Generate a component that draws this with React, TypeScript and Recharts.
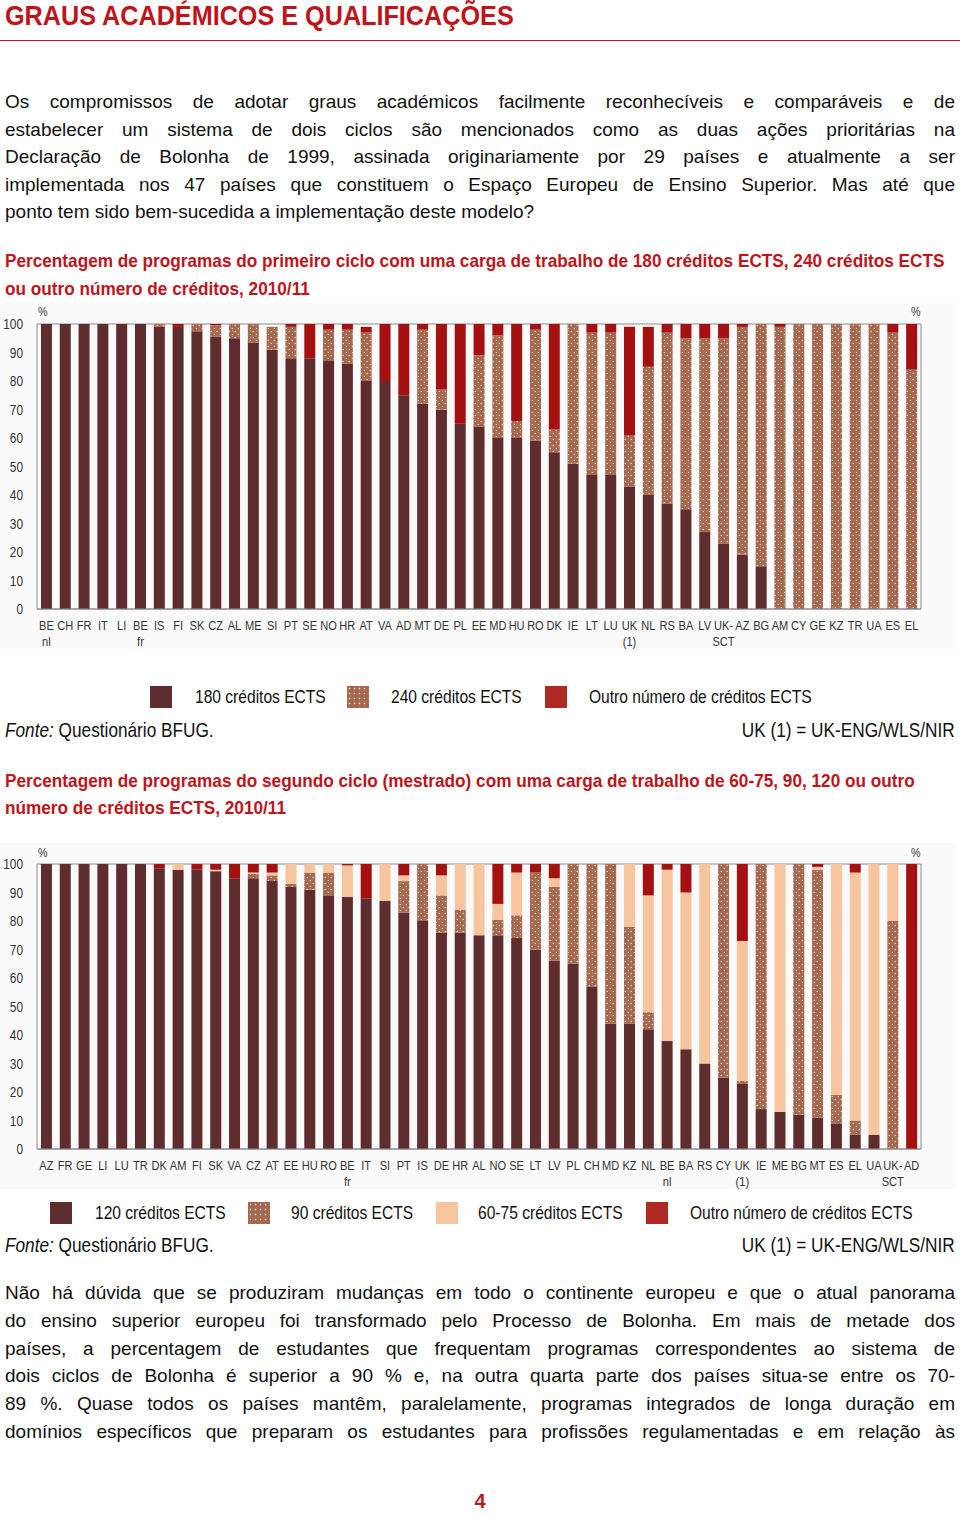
import React from "react"
import { BarChart, Bar, XAxis, YAxis, CartesianGrid } from "recharts"

// 1st cycle (bachelor) programmes, % by workload
const cycle1Countries = [
  "BE\nnl", "CH", "FR", "IT", "LI", "BE\nfr", "IS", "FI", "SK", "CZ", "AL", "ME", "SI", "PT", "SE", "NO",
  "HR", "AT", "VA", "AD", "MT", "DE", "PL", "EE", "MD", "HU", "RO", "DK", "IE", "LT", "LU", "UK\n(1)",
  "NL", "RS", "BA", "LV", "UK-\nSCT", "AZ", "BG", "AM", "CY", "GE", "KZ", "TR", "UA", "ES", "EL",
]
const cycle1Ects180 = [
  100, 100, 100, 100, 100, 100, 99, 99, 97.5, 95.5, 95, 93.5, 91, 88, 88, 87,
  86, 80, 80, 75, 72, 70, 65, 64, 60, 60, 59, 55, 51, 47, 47, 43,
  40, 37, 35, 27, 23, 19, 15, 0, 0, 0, 0, 0, 0, 0, 0,
]
const cycle1Ects240 = [
  0, 0, 0, 0, 0, 0, 1, 0, 2.5, 4, 5, 6.5, 8, 11, 0, 11,
  12, 17, 0, 0, 26, 7, 0, 25, 36, 6, 39, 8, 49, 50, 50, 18,
  45, 60, 60, 68, 72, 80, 85, 99, 100, 100, 100, 100, 100, 97, 84,
]
const cycle1Other = [
  0, 0, 0, 0, 0, 0, 0, 1, 0, 0.5, 0, 0, 0, 1, 12, 2,
  2, 2, 20, 25, 2, 23, 35, 11, 4, 34, 2, 37, 0, 3, 3, 38,
  14, 3, 5, 5, 5, 1, 0, 1, 0, 0, 0, 0, 0, 3, 16,
]

// 2nd cycle (master) programmes, % by workload
const cycle2Countries = [
  "AZ", "FR", "GE", "LI", "LU", "TR", "DK", "AM", "FI", "SK", "VA", "CZ", "AT", "EE", "HU", "RO",
  "BE\nfr", "IT", "SI", "PT", "IS", "DE", "HR", "AL", "NO", "SE", "LT", "LV", "PL", "CH", "MD", "KZ",
  "NL", "BE\nnl", "BA", "RS", "CY", "UK\n(1)", "IE", "ME", "BG", "MT", "ES", "EL", "UA", "UK-\nSCT", "AD",
]
const cycle2Ects120 = [
  100, 100, 100, 100, 100, 100, 98.5, 98, 98, 97.5, 95, 95, 94, 92, 91, 89,
  88.5, 88, 87, 83, 80, 76, 76, 75, 75, 74, 70, 66, 65, 57, 44, 44,
  42, 38, 35, 30, 25, 23, 14, 13, 12, 11, 9, 5, 5, 0, 0,
]
const cycle2Ects90 = [
  0, 0, 0, 0, 0, 0, 0, 0, 0, 0, 0, 1.5, 2, 1, 6, 8,
  0, 0, 0, 11, 20, 13, 8, 0, 5.5, 8, 27, 26, 35, 43, 56, 34,
  6, 0, 0, 0, 75, 1, 86, 0, 88, 87, 10, 5, 0, 80, 0,
]
const cycle2Ects6075 = [
  0, 0, 0, 0, 0, 0, 0, 2, 0, 0.5, 0, 0.5, 1, 7, 3, 3,
  11, 0, 13, 2, 0, 7, 16, 25, 5.5, 15, 0, 3, 0, 0, 0, 22,
  41, 60, 55, 70, 0, 49, 0, 87, 0, 1, 81, 87, 95, 20, 0,
]
const cycle2Other = [
  0, 0, 0, 0, 0, 0, 1.5, 0, 2, 2, 5, 3, 3, 0, 0, 0,
  0.5, 12, 0, 4, 0, 4, 0, 0, 14, 3, 3, 5, 0, 0, 0, 0,
  11, 2, 10, 0, 0, 27, 0, 0, 0, 1, 0, 3, 0, 0, 100,
]

const yTicks = [0, 10, 20, 30, 40, 50, 60, 70, 80, 90, 100]

const cycle1Data = cycle1Countries.map((c, i) => ({
  country: c,
  e180: cycle1Ects180[i],
  e240: cycle1Ects240[i],
  other: cycle1Other[i],
}))

const cycle2Data = cycle2Countries.map((c, i) => ({
  country: c,
  e120: cycle2Ects120[i],
  e90: cycle2Ects90[i],
  e6075: cycle2Ects6075[i],
  other: cycle2Other[i],
}))

const DARK = "#602d2f"
const DOTBASE = "#a5684e"
const PEACH = "#f6c59e"
const RED = "#a51010"
const TITLE_RED = "#c0141b"
const SANS = "'Liberation Sans', Arial, sans-serif"
// no Arial Narrow here, so squeeze Liberation Sans horizontally
const SQUEEZE = 0.82

const CountryTick = (props: any) => {
  const { x, y, payload } = props
  const lines = String(payload.value).split("\n")
  return (
    <g transform={`translate(${x},${y}) scale(${SQUEEZE},1)`}>
      <text x={0} y={0} textAnchor="middle" fill="#333" fontSize={13.5} fontFamily={SANS}>
        {lines.map((l, i) => (
          <tspan key={i} x={0} dy={i === 0 ? 19 : 16}>
            {l}
          </tspan>
        ))}
      </text>
    </g>
  )
}

const ValueTick = (props: any) => {
  const { x, y, payload, anchor } = props
  return (
    <g transform={`translate(${x},${y}) scale(${SQUEEZE},1)`}>
      <text x={0} y={0} dy={5} textAnchor={anchor} fill="#333" fontSize={14.5} fontFamily={SANS}>
        {payload.value}
      </text>
    </g>
  )
}

const DotPattern = ({ id }: { id: string }) => (
  <defs>
    <pattern id={id} width="6" height="6" patternUnits="userSpaceOnUse">
      <rect width="6" height="6" fill={DOTBASE} />
      <circle cx="1.2" cy="1.5" r="0.65" fill="#f7e8dc" />
      <circle cx="4.3" cy="4.4" r="0.6" fill="#f7e8dc" />
      <circle cx="4.6" cy="0.9" r="0.4" fill="#eed3c0" />
    </pattern>
  </defs>
)

const StackChart = ({ data, keys, fills, patternId }: any) => (
  <BarChart
    width={960}
    height={361}
    data={data}
    margin={{ top: 24, right: 0, bottom: 12, left: 0 }}
    barCategoryGap="21%"
  >
    <DotPattern id={patternId} />
    <CartesianGrid vertical={false} stroke="#8c8c8c" strokeWidth={1} />
    <XAxis
      dataKey="country"
      interval={0}
      tick={<CountryTick />}
      tickLine={false}
      tickSize={0}
      height={40}
      stroke="#8c8c8c"
    />
    <YAxis
      yAxisId="left"
      orientation="left"
      width={37}
      domain={[0, 100]}
      ticks={yTicks}
      tickLine={false}
      tickSize={0}
      tickMargin={14}
      tick={<ValueTick anchor="end" />}
      stroke="#8c8c8c"
    />
    <YAxis
      yAxisId="right"
      orientation="right"
      width={39}
      domain={[0, 100]}
      ticks={yTicks}
      tickLine={false}
      tickSize={0}
      tickMargin={15}
      tick={<ValueTick anchor="start" />}
      stroke="#8c8c8c"
    />
    {keys.map((k: string, i: number) => (
      <Bar key={k} dataKey={k} stackId="s" yAxisId="left" fill={fills[i]} isAnimationActive={false} />
    ))}
  </BarChart>
)

// condensed text block, positioned by left or right edge
const Narrow = ({ left, right, top, size, bold, color = "#111", squeeze = SQUEEZE, children }: any) => (
  <div
    style={{
      position: "absolute",
      left,
      right,
      top,
      whiteSpace: "nowrap",
      fontFamily: SANS,
      fontSize: size,
      fontWeight: bold ? 700 : 400,
      lineHeight: `${Math.round(size * 1.15)}px`,
      color,
      transform: `scaleX(${squeeze})`,
      transformOrigin: right !== undefined ? "right center" : "left center",
    }}
  >
    {children}
  </div>
)

const BodyLine = ({ top, justify, children }: any) => (
  <div
    style={{
      position: "absolute",
      left: 5,
      right: 5,
      top,
      whiteSpace: "nowrap",
      textAlign: justify ? "justify" : "left",
      textAlignLast: justify ? "justify" : "left",
      fontFamily: SANS,
      fontSize: 19,
      lineHeight: "22px",
      color: "#111",
    }}
  >
    {children}
  </div>
)

const para1 = [
  "Os compromissos de adotar graus académicos facilmente reconhecíveis e comparáveis e de",
  "estabelecer um sistema de dois ciclos são mencionados como as duas ações prioritárias na",
  "Declaração de Bolonha de 1999, assinada originariamente por 29 países e atualmente a ser",
  "implementada nos 47 países que constituem o Espaço Europeu de Ensino Superior. Mas até que",
  "ponto tem sido bem-sucedida a implementação deste modelo?",
]

const para2 = [
  "Não há dúvida que se produziram mudanças em todo o continente europeu e que o atual panorama",
  "do ensino superior europeu foi transformado pelo Processo de Bolonha. Em mais de metade dos",
  "países, a percentagem de estudantes que frequentam programas correspondentes ao sistema de",
  "dois ciclos de Bolonha é superior a 90 % e, na outra quarta parte dos países situa-se entre os 70-",
  "89 %. Quase todos os países mantêm, paralelamente, programas integrados de longa duração em",
  "domínios específicos que preparam os estudantes para profissões regulamentadas e em relação às",
]

const Swatch = ({ left, top, kind }: any) => {
  const base: any = { position: "absolute", left, top, width: 22, height: 22 }
  if (kind === "dots") {
    base.backgroundColor = DOTBASE
    base.backgroundImage = "radial-gradient(circle, #f7e8dc 0.7px, transparent 1.1px)"
    base.backgroundSize = "5px 5px"
  } else {
    base.background = kind
  }
  return <div style={base} />
}

export default function App() {
  return (
    <div style={{ position: "relative", width: 960, height: 1516, background: "#fff", overflow: "hidden" }}>
      <style>{"body{margin:0}"}</style>
      <Narrow left={5} top={0} size={28} bold color={TITLE_RED} squeeze={0.9}>
        GRAUS ACADÉMICOS E QUALIFICAÇÕES
      </Narrow>
      <div style={{ position: "absolute", left: 0, top: 40, width: 960, height: 1, background: TITLE_RED }} />

      {para1.map((t, i) => (
        <BodyLine key={i} top={91 + i * 27.6} justify={i < para1.length - 1}>
          {t}
        </BodyLine>
      ))}

      <Narrow left={5} top={250} size={19} bold color={TITLE_RED} squeeze={0.905}>
        Percentagem de programas do primeiro ciclo com uma carga de trabalho de 180 créditos ECTS, 240 créditos ECTS
      </Narrow>
      <Narrow left={5} top={278} size={19} bold color={TITLE_RED} squeeze={0.905}>
        ou outro número de créditos, 2010/11
      </Narrow>

      <div style={{ position: "absolute", left: 0, top: 303, width: 956, height: 346, background: "#fafafa" }} />
      <div style={{ position: "absolute", left: 0, top: 300 }}>
        <StackChart
          data={cycle1Data}
          keys={["e180", "e240", "other"]}
          fills={[DARK, "url(#dots1)", RED]}
          patternId="dots1"
        />
      </div>
      <Narrow left={38} top={304} size={13} color="#333">%</Narrow>
      <Narrow left={911} top={304} size={13} color="#333">%</Narrow>

      <Swatch left={150} top={686} kind={DARK} />
      <Narrow left={195} top={686} size={19}>180 créditos ECTS</Narrow>
      <Swatch left={347} top={686} kind="dots" />
      <Narrow left={391} top={686} size={19}>240 créditos ECTS</Narrow>
      <Swatch left={545} top={686} kind="#b02a24" />
      <Narrow left={589} top={686} size={19}>Outro número de créditos ECTS</Narrow>

      <Narrow left={5} top={718} size={21}>
        <i>Fonte:</i> Questionário BFUG.
      </Narrow>
      <Narrow right={5} top={718} size={21}>UK (1) = UK-ENG/WLS/NIR</Narrow>

      <Narrow left={5} top={770} size={19} bold color={TITLE_RED} squeeze={0.905}>
        Percentagem de programas do segundo ciclo (mestrado) com uma carga de trabalho de 60-75, 90, 120 ou outro
      </Narrow>
      <Narrow left={5} top={797} size={19} bold color={TITLE_RED} squeeze={0.905}>
        número de créditos ECTS, 2010/11
      </Narrow>

      <div style={{ position: "absolute", left: 0, top: 843, width: 956, height: 346, background: "#fafafa" }} />
      <div style={{ position: "absolute", left: 0, top: 840 }}>
        <StackChart
          data={cycle2Data}
          keys={["e120", "e90", "e6075", "other"]}
          fills={[DARK, "url(#dots2)", PEACH, RED]}
          patternId="dots2"
        />
      </div>
      <Narrow left={38} top={845} size={13} color="#333">%</Narrow>
      <Narrow left={911} top={845} size={13} color="#333">%</Narrow>

      <Swatch left={50} top={1202} kind={DARK} />
      <Narrow left={95} top={1202} size={19}>120 créditos ECTS</Narrow>
      <Swatch left={248} top={1202} kind="dots" />
      <Narrow left={291} top={1202} size={19}>90 créditos ECTS</Narrow>
      <Swatch left={436} top={1202} kind={PEACH} />
      <Narrow left={478} top={1202} size={19}>60-75 créditos ECTS</Narrow>
      <Swatch left={646} top={1202} kind="#b02a24" />
      <Narrow left={690} top={1202} size={19}>Outro número de créditos ECTS</Narrow>

      <Narrow left={5} top={1233} size={21}>
        <i>Fonte:</i> Questionário BFUG.
      </Narrow>
      <Narrow right={5} top={1233} size={21}>UK (1) = UK-ENG/WLS/NIR</Narrow>

      {para2.map((t, i) => (
        <BodyLine key={i} top={1282 + i * 27.8} justify>
          {t}
        </BodyLine>
      ))}

      <div
        style={{
          position: "absolute",
          left: 0,
          width: 960,
          top: 1490,
          textAlign: "center",
          fontFamily: SANS,
          fontWeight: 700,
          fontSize: 20,
          color: TITLE_RED,
        }}
      >
        4
      </div>
    </div>
  )
}
